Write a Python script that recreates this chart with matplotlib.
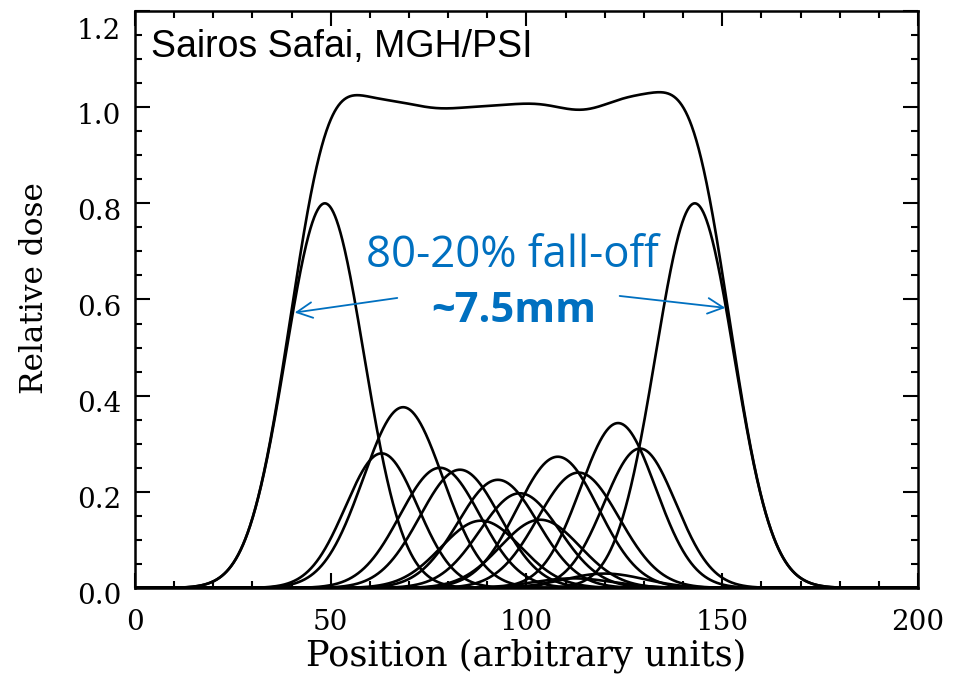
import numpy as np
import matplotlib
matplotlib.use("Agg")
import matplotlib.pyplot as plt
from matplotlib.ticker import MultipleLocator
from matplotlib.transforms import ScaledTranslation

# Pencil-beam (Gaussian) components: centre, peak height, width
beam_centers = [48.5, 63.0, 68.5, 77.9, 83.0, 88.4, 92.7, 98.3, 103.5, 108.0, 113.3, 112.0, 120.0, 123.4, 129.0, 143.0]
beam_heights = [0.80, 0.280, 0.376, 0.250, 0.246, 0.140, 0.225, 0.197, 0.142, 0.273, 0.240, 0.020, 0.030, 0.343, 0.290, 0.80]
beam_sigmas  = [10.0, 9.2, 10.2, 10.2, 10.2, 10.2, 10.2, 10.2, 10.2, 10.4, 10.4, 10.2, 10.2, 9.6, 9.2, 10.0]

x_ticks = [0, 50, 100, 150, 200]
y_ticks = [0.0, 0.2, 0.4, 0.6, 0.8, 1.0, 1.2]

credit_text = "Sairos Safai, MGH/PSI"
falloff_text = "80-20% fall-off"
width_text = "~7.5mm"
# arrows (tail -> head) in data coordinates
arrow_left = [(67.7, 0.604), (40.1, 0.572)]
arrow_right = [(123.1, 0.608), (151.5, 0.582)]

fig = plt.figure(figsize=(9.58, 6.75), dpi=100)
ax = fig.add_axes([0.1409, 0.1289, 0.8173, 0.8548])

x = np.linspace(0, 200, 2001)
total = np.zeros_like(x)
for c, h, s in zip(beam_centers, beam_heights, beam_sigmas):
    g = h * np.exp(-(x - c) ** 2 / (2 * s * s))
    total += g
    ax.plot(x, g, color="black", lw=1.9)
ax.plot(x, total, color="black", lw=1.9)

ax.set_xlim(0, 200)
ax.set_ylim(0, 1.2)
ax.set_xticks(x_ticks)
ax.set_yticks(y_ticks)
ax.set_xticklabels([str(t) for t in x_ticks])
ax.set_yticklabels([f"{t:.1f}" for t in y_ticks])
ax.xaxis.set_minor_locator(MultipleLocator(10))
ax.yaxis.set_minor_locator(MultipleLocator(0.05))
ax.tick_params(which="both", direction="in", top=True, right=True, width=1.5)
ax.tick_params(which="major", length=11, labelsize=20)
ax.tick_params(axis="x", which="major", pad=15)
ax.tick_params(axis="y", which="major", pad=10)
ax.tick_params(which="minor", length=5)
for lab in ax.get_xticklabels() + ax.get_yticklabels():
    lab.set_fontfamily("DejaVu Serif")
for i, lab in enumerate(ax.get_yticklabels()):
    dy = -17 if i == len(y_ticks) - 1 else -6
    lab.set_transform(lab.get_transform() + ScaledTranslation(0, dy / 100, fig.dpi_scale_trans))
for sp in ax.spines.values():
    sp.set_linewidth(1.8)

ax.set_xlabel("Position (arbitrary units)", fontsize=25.3, family="DejaVu Serif", labelpad=2)
ax.set_ylabel("Relative dose", fontsize=22.5, family="DejaVu Serif")
ax.yaxis.set_label_coords(-0.1086, 0.52)

ax.text(0.021, 0.937, credit_text, transform=ax.transAxes, fontsize=27,
        family="Liberation Sans", ha="left", va="center", color="black")

blue = "#0070C0"
ax.text(96.3, 0.69, falloff_text, fontsize=31.5, family="Open Sans", color=blue,
        ha="center", va="center")
ax.text(96.8, 0.574, width_text, fontsize=30, family="Open Sans", weight="bold",
        color=blue, ha="center", va="center")
for tail, head in (arrow_left, arrow_right):
    ax.annotate("", xy=head, xytext=tail,
                arrowprops=dict(arrowstyle="->", color=blue, lw=1.3, mutation_scale=28))

fig.savefig("out.png", dpi=100)
